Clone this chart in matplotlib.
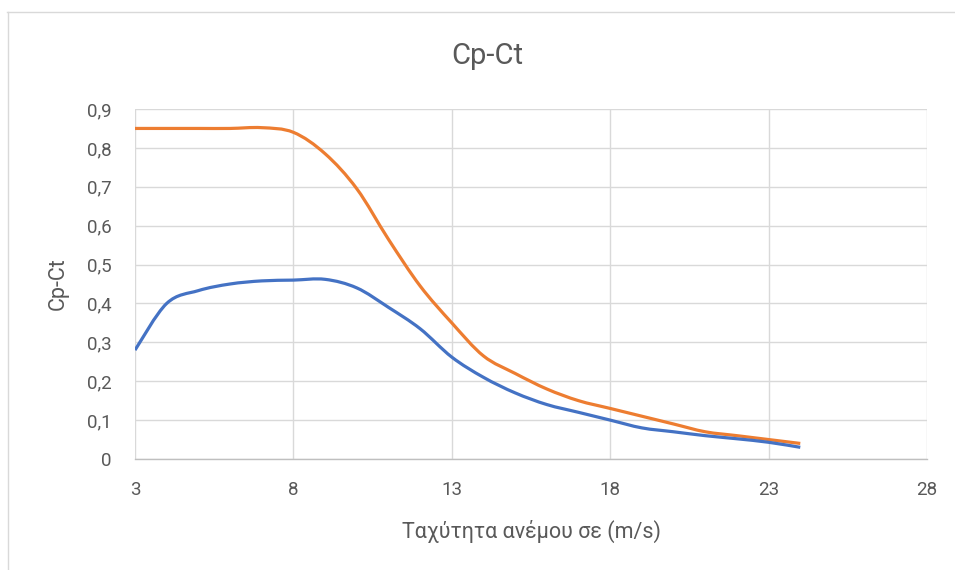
import numpy as np
import matplotlib
matplotlib.use("Agg")
import matplotlib.pyplot as plt
from matplotlib.path import Path
from matplotlib.patches import PathPatch
from matplotlib.ticker import FuncFormatter
from matplotlib.lines import Line2D

plt.rcParams['font.family'] = ['Roboto', 'DejaVu Sans']

# Wind speed (m/s) and coefficients
wind_speed = [3, 4, 5, 6, 7, 8, 9, 10, 11, 12, 13, 14, 15, 16, 17, 18, 19, 20, 21, 22, 23, 24]
cp = [0.28, 0.40, 0.433, 0.45, 0.458, 0.46, 0.462, 0.44, 0.39, 0.335, 0.262, 0.21, 0.17, 0.14,
      0.12, 0.10, 0.08, 0.07, 0.06, 0.052, 0.043, 0.03]
ct = [0.85, 0.85, 0.85, 0.85, 0.852, 0.84, 0.785, 0.695, 0.565, 0.445, 0.35, 0.265, 0.22, 0.18,
      0.15, 0.13, 0.11, 0.09, 0.07, 0.06, 0.05, 0.04]

x_ticks = [3, 8, 13, 18, 23, 28]
y_ticks = [0, 0.1, 0.2, 0.3, 0.4, 0.5, 0.6, 0.7, 0.8, 0.9]


def smooth_path(xs, ys):
    """Cubic Bezier path through the points (Catmull-Rom style tangents)."""
    xs = np.asarray(xs, float)
    ys = np.asarray(ys, float)
    n = len(xs)
    verts = [(xs[0], ys[0])]
    codes = [Path.MOVETO]
    t = 1.0 / 6.0
    for i in range(n - 1):
        x0, y0 = (xs[i - 1], ys[i - 1]) if i > 0 else (xs[i], ys[i])
        x1, y1 = xs[i], ys[i]
        x2, y2 = xs[i + 1], ys[i + 1]
        x3, y3 = (xs[i + 2], ys[i + 2]) if i + 2 < n else (x2, y2)
        c1 = (x1 + (x2 - x0) * t, y1 + (y2 - y0) * t)
        c2 = (x2 - (x3 - x1) * t, y2 - (y3 - y1) * t)
        verts += [c1, c2, (x2, y2)]
        codes += [Path.CURVE4] * 3
    return Path(verts, codes)


fig = plt.figure(figsize=(9.55, 5.7), dpi=100)
ax = fig.add_axes([135 / 955, 1 - 459 / 570, (927 - 135) / 955, (459 - 109) / 570])

for ys, color in [(ct, '#ED7D31'), (cp, '#4472C4')]:
    patch = PathPatch(smooth_path(wind_speed, ys), facecolor='none', edgecolor=color,
                      lw=2.3, capstyle='butt', joinstyle='round')
    ax.add_patch(patch)

ax.set_xlim(3, 28)
ax.set_ylim(0, 0.9)
ax.set_xticks(x_ticks)
ax.set_yticks(y_ticks)
ax.yaxis.set_major_formatter(FuncFormatter(
    lambda v, p: '0' if abs(v) < 1e-9 else f'{v:.1f}'.replace('.', ',')))
ax.grid(True, color='#d9d9d9', lw=1.0)
ax.set_axisbelow(True)
for s in ['top', 'right', 'left']:
    ax.spines[s].set_visible(False)
ax.spines['bottom'].set_color('#bfbfbf')
ax.spines['bottom'].set_linewidth(1.0)
ax.tick_params(length=0, labelsize=13.5, colors='#595959')
ax.tick_params(axis='x', pad=16)
ax.tick_params(axis='y', pad=17)

ax.set_xlabel('Ταχύτητα ανέμου σε (m/s)', fontsize=15.5, color='#595959', labelpad=15)
ax.set_ylabel('Cp-Ct', fontsize=15.5, color='#595959', labelpad=13)
fig.text(487 / 955, 1 - 56 / 570, 'Cp-Ct', ha='center', va='center', fontsize=21, color='#595959')

# chart frame
fig.add_artist(Line2D([7 / 955, 1], [1 - 11.5 / 570] * 2, transform=fig.transFigure,
                      color='#d9d9d9', lw=1.0))
fig.add_artist(Line2D([7.5 / 955] * 2, [0, 1 - 11.5 / 570], transform=fig.transFigure,
                      color='#d9d9d9', lw=1.0))

fig.savefig('out.png', dpi=100)
